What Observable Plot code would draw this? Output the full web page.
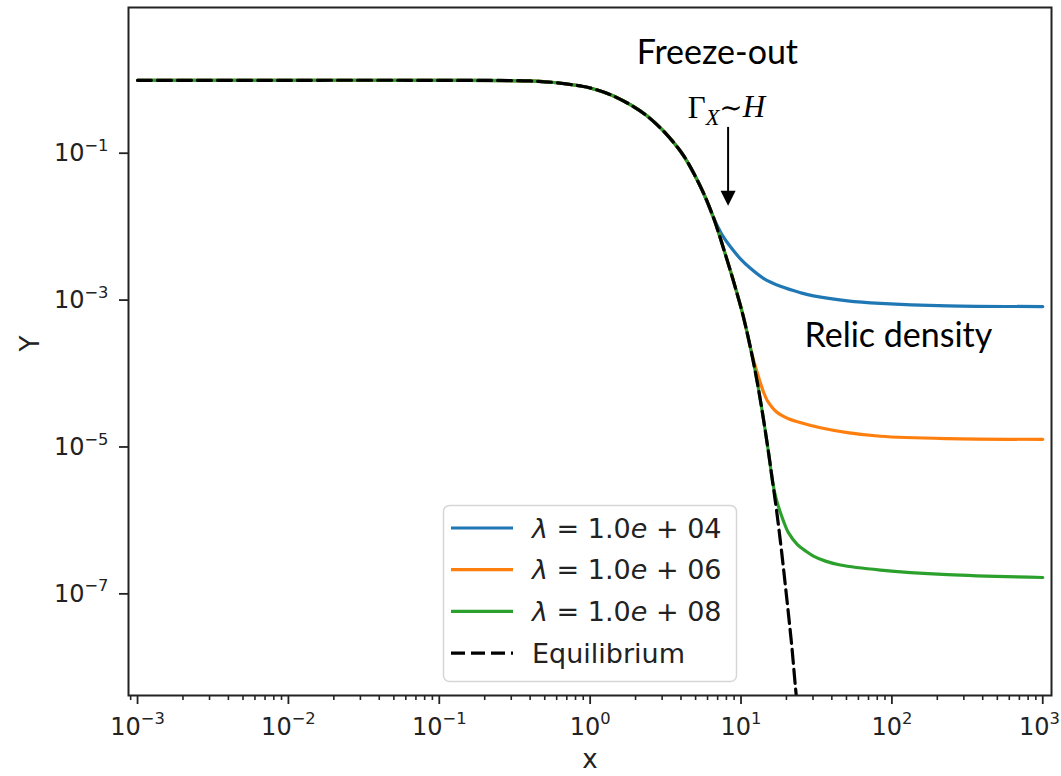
<!DOCTYPE html>
<html>
<head>
<meta charset="utf-8">
<script src="https://cdn.jsdelivr.net/npm/d3@7"></script>
<script src="https://cdn.jsdelivr.net/npm/@observablehq/plot@0.6"></script>
<style>
  body { margin: 0; background: #fff; }
  #chart { position: relative; width: 1061px; height: 776px; }
</style>
</head>
<body>
<div id="chart"></div>
<script>
// Series labels and colours (legend order)
const seriesNames = ["λ = 1.0e + 04", "λ = 1.0e + 06", "λ = 1.0e + 08", "Equilibrium"];
const seriesColors = ["#1f77b4", "#ff7f0e", "#2ca02c", "#000000"];

// Equilibrium abundance Y_eq(x)
const eqX = [0.001, 0.01, 0.1, 0.4, 0.6, 0.86, 1.0, 1.43, 2.39, 3.96, 5.37, 6.55, 7.63, 8.9, 10.35,
             11.72, 12.94, 14.07, 15.19, 16.27, 17.42, 18.52, 19.54, 20.61, 21.75, 22.94, 24.2];
const eqY = [0.984, 0.984, 0.982, 0.963, 0.91, 0.824, 0.774, 0.60, 0.32, 0.107, 0.0355, 0.0135, 5.16e-3, 1.83e-3, 6.0e-4,
             1.95e-4, 6.8e-5, 2.43e-5, 8.6e-6, 3.16e-6, 1.12e-6, 3.98e-7, 1.48e-7, 5.4e-8, 1.86e-8, 5.4e-9, 1.8e-9];

// Each coupling follows equilibrium up to its freeze-out point, then these values
const freezeX = [6.55, 11.72, 16.27];
const tail4X = [6.87, 7.19, 7.53, 8.51, 9.91, 11.54, 14.08, 18.24, 24.8, 30.2, 50.8, 84, 234, 1000];
const tail4Y = [1.091e-2, 9.05e-3, 7.62e-3, 5.31e-3, 3.65e-3, 2.71e-3, 1.98e-3, 1.54e-3, 1.26e-3, 1.14e-3, 9.77e-4, 9.03e-4, 8.36e-4, 8.17e-4];
const tail6X = [12.46, 13.24, 14.07, 14.96, 16.15, 17.16, 18.24, 20.61, 23.65, 33.6, 50.8, 84, 234, 1000];
const tail6Y = [1.24e-4, 8.24e-5, 5.65e-5, 4.26e-5, 3.43e-5, 3.02e-5, 2.75e-5, 2.43e-5, 2.21e-5, 1.83e-5, 1.57e-5, 1.40e-5, 1.30e-5, 1.27e-5];
const tail8X = [17.16, 18.24, 19.40, 20.61, 23.65, 27.13, 30.2, 36.3, 45.5, 84, 234, 1000];
const tail8Y = [1.92e-6, 1.28e-6, 9.04e-7, 6.82e-7, 4.69e-7, 3.77e-7, 3.27e-7, 2.79e-7, 2.47e-7, 2.11e-7, 1.83e-7, 1.67e-7];

// Axis ticks
const xMajor = [1e-3, 1e-2, 1e-1, 1e0, 1e1, 1e2, 1e3];
const xMinorFactors = [2, 3, 4, 5, 6, 7, 8, 9];
const yMajor = [1e-1, 1e-3, 1e-5, 1e-7];

// Annotation text and anchor points (data coordinates)
const freezeLabel = "Freeze-out";
const freezeAt = {x: 6.97, y: 2.28};
const rateLabel = "ΓX∼H";
const rateAt = {x: 8.0, y: 0.417};
const arrowAt = {x: 8.21, y1: 0.228, y2: 0.0288, tip: 0.0192};
const relicLabel = "Relic density";
const relicAt = {x: 110.5, y: 3.19e-4};

const xDomain = [10 ** -3.06, 10 ** 3.058];
const yDomain = [10 ** -8.384, 10 ** 0.984];

const xMinor = [];
for (let e = -4; e <= 3; e++) for (const k of xMinorFactors) {
  const v = k * 10 ** e;
  if (v >= xDomain[0] && v <= xDomain[1]) xMinor.push(v);
}

// Tick labels as 10^n; the exponent is raised into a tspan after rendering
const pow10 = d => "10^" + Math.round(Math.log10(d));

const zip = (xs, ys) => xs.map((x, i) => ({x, y: ys[i]}));
const eqRows = zip(eqX, eqY);
const tails = [zip(tail4X, tail4Y), zip(tail6X, tail6Y), zip(tail8X, tail8Y)];
const coupled = tails.map((t, i) => eqRows.filter(r => r.x <= freezeX[i]).concat(t));

const W = 1061, H = 776;
const M = {left: 128, right: 10, top: 7, bottom: 81};
const lw = 3.2;
const dash = "14,6";
const tickFont = 24;

// Filled arrow head whose tip sits on the anchor point
const headDown = {draw(ctx) { ctx.moveTo(0, 0); ctx.lineTo(-7.5, -15); ctx.lineTo(7.5, -15); ctx.closePath(); }};

const chart = Plot.plot({
  width: W, height: H,
  marginLeft: M.left, marginRight: M.right, marginTop: M.top, marginBottom: M.bottom,
  style: {fontFamily: "'DejaVu Sans', sans-serif", fontSize: "26px", color: "#222", background: "#fff", overflow: "visible"},
  x: {type: "log", domain: xDomain},
  y: {type: "log", domain: yDomain},
  marks: [
    Plot.axisX({ticks: xMinor, tickSize: 5, tickFormat: () => "", strokeWidth: 1.6, label: null}),
    Plot.axisX({ticks: xMajor, tickSize: 9, tickPadding: 13, tickFormat: pow10, strokeWidth: 1.8, label: null, fontSize: tickFont}),
    Plot.axisY({ticks: yMajor, tickSize: 9, tickPadding: 11, tickFormat: pow10, strokeWidth: 1.8, label: null, fontSize: tickFont}),
    ...coupled.map((rows, i) => Plot.line(rows, {x: "x", y: "y", stroke: seriesColors[i], strokeWidth: lw, curve: "catmull-rom", clip: true})),
    Plot.line(eqRows, {x: "x", y: "y", stroke: seriesColors[3], strokeWidth: lw, strokeDasharray: dash, curve: "catmull-rom", clip: true}),
    Plot.frame({stroke: "#222", strokeWidth: 2}),
    Plot.text(["Y"], {frameAnchor: "left", dx: -98, rotate: -90, fontSize: 26, fill: "#222"}),
    Plot.text(["x"], {frameAnchor: "bottom", dy: 72, fontSize: 26, fill: "#222"}),
    Plot.text([freezeAt], {x: "x", y: "y", text: () => freezeLabel, fontFamily: "Lato", fontSize: 34, fill: "#000"}),
    Plot.text([relicAt], {x: "x", y: "y", text: () => relicLabel, fontFamily: "Lato", fontSize: 34, fill: "#000"}),
    Plot.text([rateAt], {x: "x", y: "y", text: () => rateLabel, fontFamily: "'Liberation Serif', serif", fontSize: 31, fill: "#000"}),
    Plot.link([arrowAt], {x1: "x", x2: "x", y1: "y1", y2: "y2", stroke: "#000", strokeWidth: 2}),
    Plot.dot([arrowAt], {x: "x", y: "tip", symbol: headDown, fill: "#000", stroke: "none"})
  ]
});

const svg = d3.select(chart);
const tickTexts = [];

svg.selectAll("text").each(function () {
  const s = this.textContent;
  const t = d3.select(this);
  // Power-of-ten tick labels with a raised, smaller exponent
  const m = /^10\^(-?\d+)$/.exec(s);
  if (m) {
    t.text("10");
    t.append("tspan").text(m[1].replace("-", "−")).attr("font-size", "0.68em").attr("dy", "-0.62em");
    tickTexts.push(this);
    return;
  }
  // Subscript on the rate label: Γ_X ∼ H
  if (s === rateLabel) {
    t.text(null);
    t.append("tspan").text("Γ");
    t.append("tspan").text("X").attr("font-style", "italic").attr("font-size", "0.72em").attr("dy", "0.32em");
    t.append("tspan").text("∼").attr("font-family", "'DejaVu Serif', serif").attr("font-size", "0.9em").attr("dy", "-0.26em");
    t.append("tspan").text("H").attr("font-style", "italic");
  }
});

// Legend, lower centre of the axes
const fs = 27;
const boxW = 293, boxH = 176, rowGap = 41.7, firstRow = 23;
const cx = M.left + (W - M.left - M.right) / 2;
const bx = cx - boxW / 2, by = H - M.bottom - 14 - boxH;
const lg = svg.append("g").attr("transform", `translate(${bx},${by})`)
  .attr("font-family", "'DejaVu Sans', sans-serif").attr("font-size", fs).attr("text-anchor", "start");
lg.append("rect").attr("x", 0.5).attr("y", 0.5).attr("width", boxW).attr("height", boxH)
  .attr("rx", 6).attr("fill", "#fff").attr("fill-opacity", 0.8).attr("stroke", "#d6d6d6").attr("stroke-width", 1.5);
seriesNames.forEach((name, i) => {
  const y = firstRow + i * rowGap;
  lg.append("line").attr("x1", 8).attr("x2", 70).attr("y1", y).attr("y2", y)
    .attr("stroke", seriesColors[i]).attr("stroke-width", lw)
    .attr("stroke-dasharray", i === 3 ? dash : null);
  const t = lg.append("text").attr("x", 89).attr("y", y).attr("dy", "0.36em").attr("fill", "#222");
  if (i === 3) { t.text(name); return; }
  // λ and e set in italic as in math mode
  name.split(/(λ|e)/).filter(s => s).forEach(part => {
    const sp = t.append("tspan").text(part);
    if (part === "λ" || part === "e") sp.attr("font-style", "italic");
  });
});

document.getElementById("chart").append(chart);

// Keep the outermost tick label inside the page
const box = chart.getBoundingClientRect();
for (const el of tickTexts) {
  const r = el.getBoundingClientRect();
  const over = r.right - box.left - (W - 1);
  if (over > 0) el.setAttribute("dx", -over);
}
</script>
</body>
</html>
